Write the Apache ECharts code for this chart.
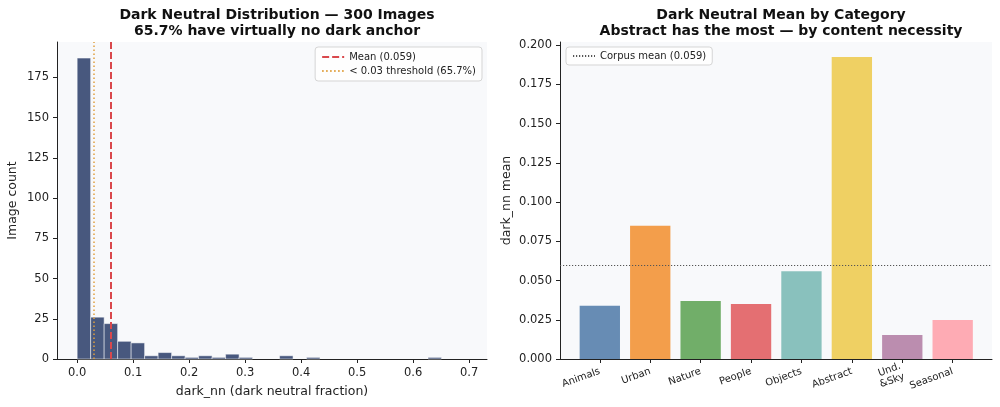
<!DOCTYPE html>
<html>
<head>
<meta charset="utf-8">
<script src="https://cdn.jsdelivr.net/npm/echarts@6/dist/echarts.min.js"></script>
<style>html,body{margin:0;padding:0;background:#fff}#c{width:1000px;height:407px}</style>
</head>
<body>
<div id="c"></div>
<script>
// ---- data ----
const histBinWidth = 0.0241;
const histCounts = [187, 26, 22, 11, 10, 2, 4, 2, 1, 2, 1, 3, 1, 0, 0, 2, 0, 1, 0, 0, 0, 0, 0, 0, 0, 0, 1];
const meanValue = 0.059;
const thresholdValue = 0.03;
const histTicks = [0, 0.1, 0.2, 0.3, 0.4, 0.5, 0.6, 0.7];
const countTicks = [0, 25, 50, 75, 100, 125, 150, 175];

const categories = ['Animals', 'Urban', 'Nature', 'People', 'Objects', 'Abstract', 'Und.\n&Sky', 'Seasonal'];
const categoryMeans = [0.034, 0.085, 0.037, 0.035, 0.056, 0.1925, 0.0153, 0.0248];
const corpusMean = 0.059;
const meanTicks = [0, 0.025, 0.05, 0.075, 0.1, 0.125, 0.15, 0.175, 0.2];

// ---- styles ----
const catColors = ['#4e79a7', '#f28e2b', '#59a14f', '#e15759', '#76b7b2', '#edc948', '#b07aa1', '#ff9da7'];
const FONT = 'DejaVu Sans';
const axisCol = '#222';

const histData = histCounts.map((c, i) => [i * histBinWidth, (i + 1) * histBinWidth, c]);
const barData = categoryMeans.map((v, i) => [i, v]);

const chart = echarts.init(document.getElementById('c'), null, {renderer: 'canvas'});

const axisCommon = {
  axisLine: {show: true, onZero: false, lineStyle: {color: axisCol, width: 1}},
  axisTick: {show: true, length: 4, lineStyle: {color: axisCol}},
  splitLine: {show: false},
  axisLabel: {color: '#222', fontFamily: FONT, fontSize: 11.5},
  nameTextStyle: {color: '#222', fontFamily: FONT, fontSize: 12.5}
};

const legendCommon = {
  orient: 'vertical', top: 47,
  itemWidth: 22, itemHeight: 10,
  backgroundColor: 'rgba(255,255,255,0.8)', borderColor: '#d5d5d5', borderWidth: 1, borderRadius: 3,
  itemStyle: {opacity: 0},
  textStyle: {fontFamily: FONT, fontSize: 10, color: '#222'}
};

const option = {
  animation: false,
  backgroundColor: '#fff',
  textStyle: {fontFamily: FONT},
  title: [
    {text: 'Dark Neutral Distribution — 300 Images\n65.7% have virtually no dark anchor', left: 272, top: 2, textAlign: 'center',
      textStyle: {fontFamily: FONT, fontSize: 14, fontWeight: 'bold', color: '#111', lineHeight: 16}},
    {text: 'Dark Neutral Mean by Category\nAbstract has the most — by content necessity', left: 776, top: 2, textAlign: 'center',
      textStyle: {fontFamily: FONT, fontSize: 14, fontWeight: 'bold', color: '#111', lineHeight: 16}}
  ],
  grid: [
    {left: 57, right: 513, top: 42, bottom: 48, show: true, backgroundColor: '#f8f9fb', borderWidth: 0},
    {left: 560, right: 8, top: 42, bottom: 48, show: true, backgroundColor: '#f8f9fb', borderWidth: 0}
  ],
  legend: [
    Object.assign({}, legendCommon, {
      data: ['Mean (0.059)', '< 0.03 threshold (65.7%)'],
      right: 518, itemGap: 4, padding: [5, 6, 5, 6]
    }),
    Object.assign({}, legendCommon, {
      data: ['Corpus mean (0.059)'],
      left: 566, padding: [4, 6, 4, 6]
    })
  ],
  xAxis: [
    Object.assign({}, axisCommon, {
      type: 'value', gridIndex: 0, min: -0.036, max: 0.732,
      name: 'dark_nn (dark neutral fraction)', nameLocation: 'middle', nameGap: 26,
      axisTick: Object.assign({}, axisCommon.axisTick, {customValues: histTicks}),
      axisLabel: Object.assign({}, axisCommon.axisLabel, {customValues: histTicks, margin: 8, formatter: v => v.toFixed(1)})
    }),
    Object.assign({}, axisCommon, {
      type: 'value', gridIndex: 1, min: -0.79, max: 7.78,
      axisTick: Object.assign({}, axisCommon.axisTick, {customValues: categories.map((c, i) => i)}),
      axisLabel: Object.assign({}, axisCommon.axisLabel, {customValues: categories.map((c, i) => i), fontSize: 10, rotate: 20, margin: 12, lineHeight: 11,
        formatter: v => categories[Math.round(v)]})
    })
  ],
  yAxis: [
    Object.assign({}, axisCommon, {
      type: 'value', gridIndex: 0, min: 0, max: 197,
      name: 'Image count', nameLocation: 'middle', nameGap: 38,
      axisTick: Object.assign({}, axisCommon.axisTick, {customValues: countTicks}),
      axisLabel: Object.assign({}, axisCommon.axisLabel, {customValues: countTicks, margin: 8})
    }),
    Object.assign({}, axisCommon, {
      type: 'value', gridIndex: 1, min: 0, max: 0.2021,
      name: 'dark_nn mean', nameLocation: 'middle', nameGap: 47,
      axisTick: Object.assign({}, axisCommon.axisTick, {customValues: meanTicks}),
      axisLabel: Object.assign({}, axisCommon.axisLabel, {customValues: meanTicks, margin: 8, formatter: v => v.toFixed(3)})
    })
  ],
  series: [
    {
      type: 'custom', xAxisIndex: 0, yAxisIndex: 0, data: histData, z: 2,
      encode: {x: [0, 1], y: 2},
      renderItem: (params, api) => {
        const c = api.value(2);
        if (!c) return null;
        const p0 = api.coord([api.value(0), c]);
        const p1 = api.coord([api.value(1), 0]);
        return {type: 'rect', shape: {x: p0[0], y: p0[1], width: p1[0] - p0[0], height: p1[1] - p0[1]},
          style: {fill: '#48587e', stroke: '#ffffff', lineWidth: 0.5}};
      }
    },
    {
      name: 'Mean (0.059)', type: 'line', xAxisIndex: 0, yAxisIndex: 0, data: [], symbol: 'none', z: 5,
      itemStyle: {color: '#d9484c'},
      lineStyle: {color: '#d9484c', type: [7, 3], width: 2},
      markLine: {silent: true, symbol: ['none', 'none'], label: {show: false},
        lineStyle: {color: '#d9484c', type: [7, 3], width: 2}, data: [{xAxis: meanValue}]}
    },
    {
      name: '< 0.03 threshold (65.7%)', type: 'line', xAxisIndex: 0, yAxisIndex: 0, data: [], symbol: 'none', z: 5,
      itemStyle: {color: '#e0a040'},
      lineStyle: {color: '#e0a040', type: [1.5, 2.5], width: 1.5},
      markLine: {silent: true, symbol: ['none', 'none'], label: {show: false},
        lineStyle: {color: '#e0a040', type: [1.5, 2.5], width: 1.5}, data: [{xAxis: thresholdValue}]}
    },
    {
      type: 'custom', xAxisIndex: 1, yAxisIndex: 1, data: barData, z: 2,
      encode: {x: 0, y: 1},
      renderItem: (params, api) => {
        const i = api.value(0), v = api.value(1);
        const p0 = api.coord([i - 0.4, v]);
        const p1 = api.coord([i + 0.4, 0]);
        return {type: 'rect', shape: {x: p0[0], y: p0[1], width: p1[0] - p0[0], height: p1[1] - p0[1]},
          style: {fill: catColors[params.dataIndex], opacity: 0.85}};
      }
    },
    {
      name: 'Corpus mean (0.059)', type: 'line', xAxisIndex: 1, yAxisIndex: 1, data: [], symbol: 'none', z: 5,
      itemStyle: {color: '#555'},
      lineStyle: {color: '#555', type: [1.2, 1.8], width: 1},
      markLine: {silent: true, symbol: ['none', 'none'], label: {show: false},
        lineStyle: {color: '#555', type: [1.2, 1.8], width: 1}, data: [{yAxis: corpusMean}]}
    }
  ]
};
chart.setOption(option);
</script>
</body>
</html>
